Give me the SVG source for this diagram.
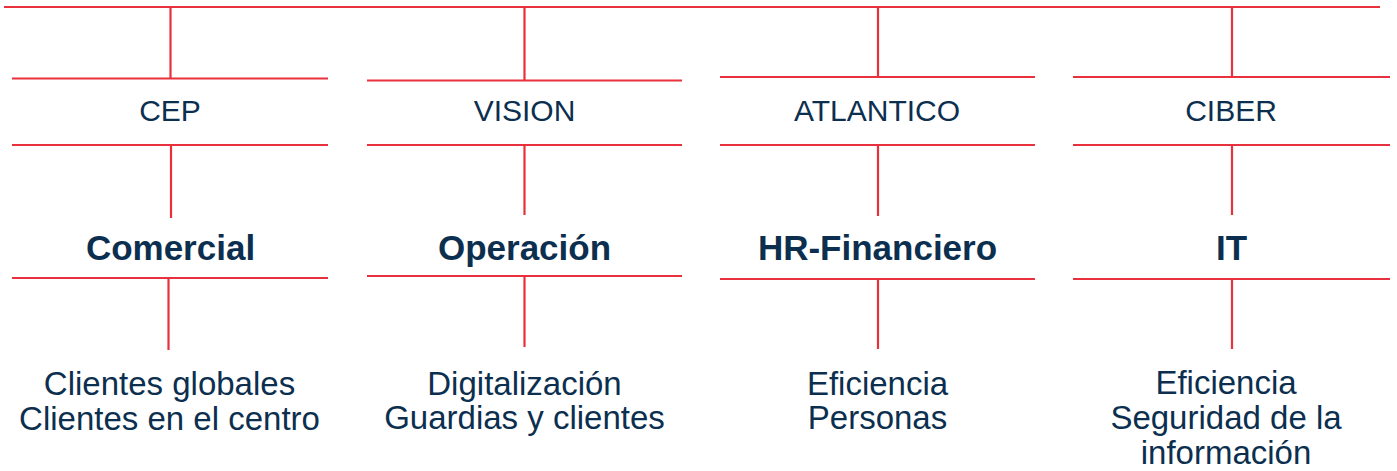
<svg xmlns="http://www.w3.org/2000/svg" width="1397" height="471" viewBox="0 0 1397 471">
<style>
.ln{stroke:#E8313D;stroke-width:2.2;fill:none}
text{font-family:"Liberation Sans",Arial,sans-serif;fill:#0C2F4F;text-anchor:middle}
.h{font-size:30px}
.b{font-size:35px;font-weight:bold}
.d{font-size:33px}
</style>
<rect width="1397" height="471" fill="#fff"/>
<g id="connectors" class="ln">
<line x1="4" y1="7" x2="1380" y2="7"/>
<line x1="170.5" y1="7" x2="170.5" y2="78"/>
<line x1="524.5" y1="7" x2="524.5" y2="80"/>
<line x1="878" y1="7" x2="878" y2="77"/>
<line x1="1232" y1="7" x2="1232" y2="77"/>
<line x1="171" y1="145" x2="171" y2="218"/>
<line x1="524.5" y1="145" x2="524.5" y2="215"/>
<line x1="878" y1="145" x2="878" y2="216"/>
<line x1="1232" y1="145" x2="1232" y2="215"/>
<line x1="168.5" y1="278" x2="168.5" y2="350"/>
<line x1="524.5" y1="276" x2="524.5" y2="347"/>
<line x1="878" y1="279" x2="878" y2="349"/>
<line x1="1232" y1="279" x2="1232" y2="349"/>
</g>
<g id="cep">
<line class="ln" x1="12" y1="78.5" x2="328" y2="78.5"/>
<line class="ln" x1="12" y1="145" x2="328" y2="145"/>
<text class="h" x="170" y="121">CEP</text>
</g>
<g id="vision">
<line class="ln" x1="367" y1="80.5" x2="682" y2="80.5"/>
<line class="ln" x1="367" y1="145" x2="682" y2="145"/>
<text class="h" x="524.5" y="121">VISION</text>
</g>
<g id="atlantico">
<line class="ln" x1="720" y1="77" x2="1035" y2="77"/>
<line class="ln" x1="720" y1="145" x2="1035" y2="145"/>
<text class="h" x="877" y="121">ATLANTICO</text>
</g>
<g id="ciber">
<line class="ln" x1="1073" y1="77" x2="1390" y2="77"/>
<line class="ln" x1="1073" y1="145" x2="1390" y2="145"/>
<text class="h" x="1231" y="121">CIBER</text>
</g>
<g id="comercial">
<text class="b" x="170.5" y="260">Comercial</text>
<line class="ln" x1="12" y1="278" x2="328" y2="278"/>
</g>
<g id="operacion">
<text class="b" x="524.5" y="260">Operación</text>
<line class="ln" x1="367" y1="276" x2="682" y2="276"/>
</g>
<g id="hr-financiero">
<text class="b" x="877.5" y="260">HR-Financiero</text>
<line class="ln" x1="720" y1="279" x2="1035" y2="279"/>
</g>
<g id="it">
<text class="b" x="1231.5" y="260">IT</text>
<line class="ln" x1="1073" y1="279" x2="1390" y2="279"/>
</g>
<g id="comercial-detalle">
<text class="d" x="169.5" y="395">Clientes globales</text>
<text class="d" x="169.5" y="430">Clientes en el centro</text>
</g>
<g id="operacion-detalle">
<text class="d" x="524.5" y="395">Digitalización</text>
<text class="d" x="524.5" y="429">Guardias y clientes</text>
</g>
<g id="hr-detalle">
<text class="d" x="877.5" y="395">Eficiencia</text>
<text class="d" x="877.5" y="429">Personas</text>
</g>
<g id="it-detalle">
<text class="d" x="1226" y="394">Eficiencia</text>
<text class="d" x="1226" y="429">Seguridad de la</text>
<text class="d" x="1226" y="464">información</text>
</g>
</svg>
